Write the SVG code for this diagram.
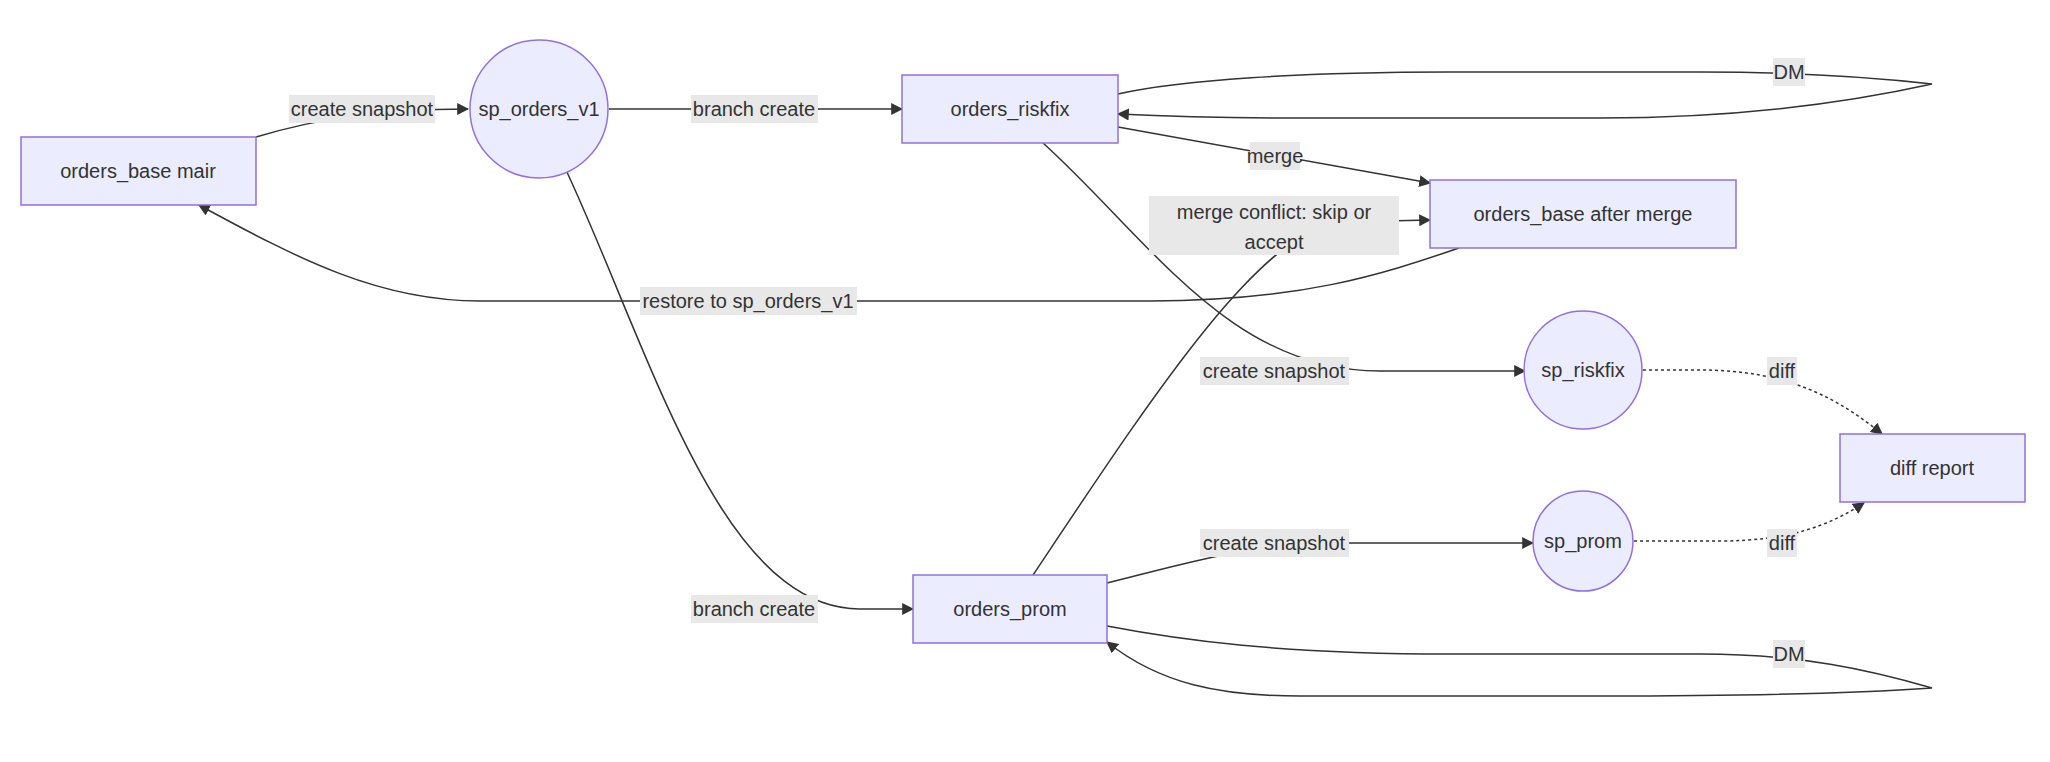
<svg xmlns="http://www.w3.org/2000/svg" width="2050" height="762" viewBox="0 0 2050 762">
<style>
.n{fill:#ECECFF;stroke:#9370DB;stroke-width:1.5}
.t{font-family:"Liberation Sans",Arial,sans-serif;font-size:20px;fill:#333;text-anchor:middle;dominant-baseline:central}
.e{fill:none;stroke:#333;stroke-width:1.5}
.d{stroke-dasharray:3 3}
.lb{fill:#e8e8e8}
</style>
<defs>
<marker id="a" viewBox="0 0 10 10" refX="9" refY="5" markerWidth="8" markerHeight="8" orient="auto-start-reverse"><path d="M0,0L10,5L0,10z" fill="#333"/></marker>
</defs>
<rect width="2050" height="762" fill="#fff"/>
<g id="edges">
<path class="e" marker-end="url(#a)" d="M256,137 C320,118 380,109 468,109"/>
<path class="e" marker-end="url(#a)" d="M609,109 L902,109"/>
<path class="e" marker-end="url(#a)" d="M1118,94 C1180,80 1300,72 1450,72 L1700,72 C1800,72 1880,78 1932,84 C1860,100 1750,118 1600,118 L1300,118 C1220,118 1160,116 1118,114"/>
<path class="e" marker-end="url(#a)" d="M1118,127 L1430,183"/>
<path class="e" marker-end="url(#a)" d="M566,170 C650,350 720,609 860,609 L913,609"/>
<path class="e" marker-end="url(#a)" d="M1459,248 C1380,275 1300,301 1150,301 L480,301 C380,301 300,260 199,205"/>
<path class="e" marker-end="url(#a)" d="M1043,143 C1150,240 1230,371 1380,371 L1525,371"/>
<path class="e" marker-end="url(#a)" d="M1033,575 C1150,400 1260,230 1340,222 L1430,220"/>
<path class="e" marker-end="url(#a)" d="M1107,583 C1200,560 1250,543 1350,543 L1533,543"/>
<path class="e" marker-end="url(#a)" d="M1107,626 C1180,640 1280,654 1450,654 L1700,654 C1800,654 1870,670 1932,688 C1860,693 1750,696 1600,696 L1300,696 C1220,696 1160,684 1107,642"/>
<path class="e d" marker-end="url(#a)" d="M1643,370 L1700,370 C1790,370 1840,400 1882,434"/>
<path class="e d" marker-end="url(#a)" d="M1634,541 L1720,541 C1790,541 1830,525 1864,503"/>
</g>
<g id="edge-labels">
<rect class="lb" x="289" y="95" width="146" height="28"/><text class="t" x="362" y="109">create snapshot</text>
<rect class="lb" x="691" y="95" width="127" height="28"/><text class="t" x="754" y="109">branch create</text>
<rect class="lb" x="1773" y="58" width="32" height="28"/><text class="t" x="1789" y="72">DM</text>
<rect class="lb" x="1250" y="142" width="50" height="28"/><text class="t" x="1275" y="156">merge</text>
<rect class="lb" x="691" y="595" width="127" height="28"/><text class="t" x="754" y="609">branch create</text>
<rect class="lb" x="640" y="287" width="217" height="28"/><text class="t" x="748" y="301">restore to sp_orders_v1</text>
<rect class="lb" x="1200" y="357" width="149" height="28"/><text class="t" x="1274" y="371">create snapshot</text>
<rect class="lb" x="1149" y="196" width="250" height="59"/><text class="t" x="1274" y="212">merge conflict: skip or</text><text class="t" x="1274" y="242">accept</text>
<rect class="lb" x="1200" y="529" width="149" height="28"/><text class="t" x="1274" y="543">create snapshot</text>
<rect class="lb" x="1773" y="640" width="32" height="28"/><text class="t" x="1789" y="654">DM</text>
<rect class="lb" x="1767" y="357" width="30" height="28"/><text class="t" x="1782" y="371">diff</text>
<rect class="lb" x="1767" y="529" width="30" height="28"/><text class="t" x="1782" y="543">diff</text>
</g>
<g id="orders_base_main"><rect class="n" x="21" y="137" width="235" height="68"/><text class="t" x="138" y="171">orders_base mair</text></g>
<g id="sp_orders_v1"><circle class="n" cx="539" cy="109" r="69"/><text class="t" x="539" y="109">sp_orders_v1</text></g>
<g id="orders_riskfix"><rect class="n" x="902" y="75" width="216" height="68"/><text class="t" x="1010" y="109">orders_riskfix</text></g>
<g id="orders_base_after_merge"><rect class="n" x="1430" y="180" width="306" height="68"/><text class="t" x="1583" y="214">orders_base after merge</text></g>
<g id="sp_riskfix"><circle class="n" cx="1583" cy="370" r="59"/><text class="t" x="1583" y="370">sp_riskfix</text></g>
<g id="diff_report"><rect class="n" x="1840" y="434" width="185" height="68"/><text class="t" x="1932" y="468">diff report</text></g>
<g id="sp_prom"><circle class="n" cx="1583" cy="541" r="50"/><text class="t" x="1583" y="541">sp_prom</text></g>
<g id="orders_prom"><rect class="n" x="913" y="575" width="194" height="68"/><text class="t" x="1010" y="609">orders_prom</text></g>
</svg>
